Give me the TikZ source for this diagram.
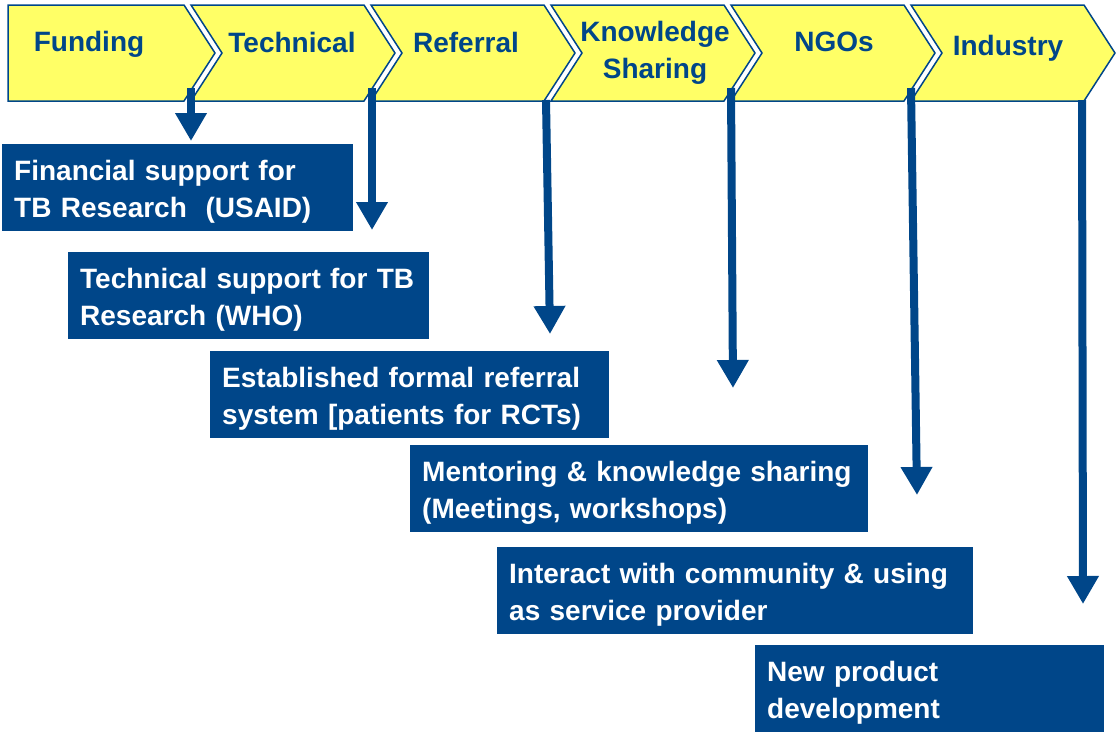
\documentclass[tikz,border=0pt]{standalone}
\usepackage{fontspec}
\setmainfont{Liberation Sans}
\usetikzlibrary{arrows.meta,positioning}
\definecolor{partnerblue}{RGB}{0,70,137}
\definecolor{stageyellow}{RGB}{255,255,102}
\tikzset{
  stage/.style={draw=partnerblue,line width=1.5pt,fill=stageyellow,line join=miter},
  stagelabel/.style={text=partnerblue,font=\bfseries\fontsize{28}{37}\selectfont,align=center,inner sep=0pt},
  supportbox/.style={fill=partnerblue,text=white,font=\bfseries\fontsize{28}{37}\selectfont,
    align=left,anchor=north west,inner xsep=12pt,inner ysep=0pt,minimum height=87pt,
    execute at begin node=\rule{0pt}{28pt}},
  link/.style={partnerblue,line width=8pt,-{Triangle[width=30pt,length=28pt]}}
}
\begin{document}
\begin{tikzpicture}[x=1pt,y=-1pt]
      \useasboundingbox (0,0) rectangle (1117,734);
      % stages along the top
      \draw[stage] (8,5) -- (184,5) -- (215,53) -- (184,101) -- (8,101) -- cycle;
      \draw[stage] (191,5) -- (364,5) -- (395,53) -- (364,101) -- (191,101) -- (222,53) -- cycle;
      \draw[stage] (371,5) -- (544,5) -- (575,53) -- (544,101) -- (371,101) -- (402,53) -- cycle;
      \draw[stage] (551,5) -- (724,5) -- (755,53) -- (724,101) -- (551,101) -- (582,53) -- cycle;
      \draw[stage] (731,5) -- (904,5) -- (935,53) -- (904,101) -- (731,101) -- (762,53) -- cycle;
      \draw[stage] (911,5) -- (1084,5) -- (1115,53) -- (1084,101) -- (911,101) -- (942,53) -- cycle;
      \node[stagelabel] (funding) at (89,44) {Funding};
      \node[stagelabel] (technical) at (292,42) {Technical};
      \node[stagelabel] (referral) at (466,42) {Referral};
      \node[stagelabel] (knowledge) at (655,53) {Knowledge\\Sharing};
      \node[stagelabel] (ngos) at (834,42) {NGOs};
      \node[stagelabel] (industry) at (1008,48) {Industry};
      % support boxes
      \node[supportbox,text width=327pt] (financial) at (2,144) {Financial support for\\TB Research~~(USAID)};
      \node[supportbox,text width=337pt] (who) at (68,252) {Technical support for TB\\Research (WHO)};
      \node[supportbox,text width=375pt] (formal) at (210,351) {Established formal referral\\system [patients for RCTs)};
      \node[supportbox,text width=434pt] (mentoring) at (410,445) {Mentoring \& knowledge sharing\\(Meetings, workshops)};
      \node[supportbox,text width=452pt] (community) at (497,547) {Interact with community \& using\\as service provider};
      \node[supportbox,text width=325pt] (product) at (755,645) {New product\\development};
      % arrows down from the stages
      \coordinate (funding-s) at (191,88);
      \coordinate (funding-e) at (191,141);
      \coordinate (technical-s) at (372,88);
      \coordinate (technical-e) at (372,230);
      \coordinate (referral-s) at (546,100);
      \coordinate (referral-e) at (550,334);
      \coordinate (knowledge-s) at (731,88);
      \coordinate (knowledge-e) at (733,388);
      \coordinate (ngos-s) at (911,88);
      \coordinate (ngos-e) at (917,495);
      \coordinate (industry-s) at (1082,100);
      \coordinate (industry-e) at (1083,604);
      \draw[link] (funding-s) -- (funding-e);
      \draw[link] (technical-s) -- (technical-e);
      \draw[link] (referral-s) -- (referral-e);
      \draw[link] (knowledge-s) -- (knowledge-e);
      \draw[link] (ngos-s) -- (ngos-e);
      \draw[link] (industry-s) -- (industry-e);
\end{tikzpicture}
\end{document}
